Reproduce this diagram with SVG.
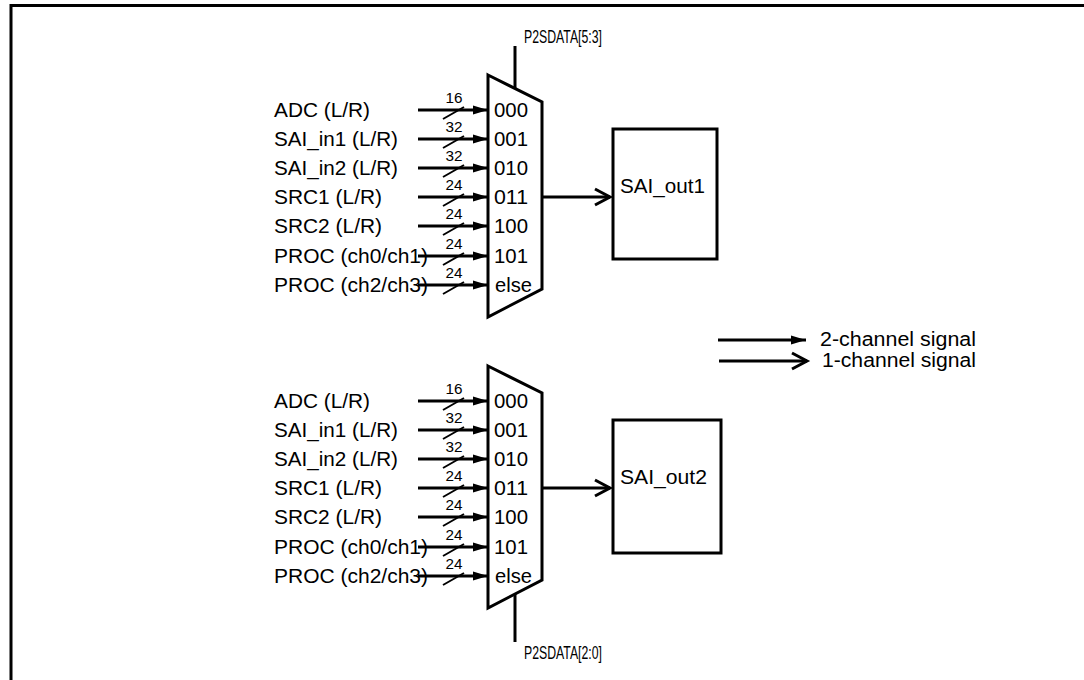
<svg xmlns="http://www.w3.org/2000/svg" width="1084" height="680" viewBox="0 0 1084 680">
<defs>
<marker id="fa" markerUnits="userSpaceOnUse" markerWidth="16" markerHeight="10" refX="15" refY="4.5" orient="auto" overflow="visible"><path d="M0,0 L15,4.5 L0,9 z" fill="#000"/></marker>
<marker id="oa" markerUnits="userSpaceOnUse" markerWidth="18" markerHeight="18" refX="15" refY="8" orient="auto" overflow="visible"><path d="M0,0 L15,8 L0,16" fill="none" stroke="#000" stroke-width="3"/></marker>
</defs>
<style>
.t{font-family:"Liberation Sans",Arial,Helvetica,sans-serif;font-size:20px;fill:#000}
.n{font-family:"Liberation Sans",Arial,Helvetica,sans-serif;font-size:14px;fill:#000;text-anchor:middle}
.sel{font-family:"Liberation Sans",Arial,Helvetica,sans-serif;font-size:18px;fill:#000}
.lg{font-family:"Liberation Sans",Arial,Helvetica,sans-serif;font-size:20px;fill:#000}
.w{stroke:#000;stroke-width:3;fill:none}
.in{stroke:#000;stroke-width:3;fill:none;marker-end:url(#fa)}
.out{stroke:#000;stroke-width:3;fill:none;marker-end:url(#oa)}
.s{stroke:#000;stroke-width:2;fill:none}
.shape{fill:#fff;stroke:#000;stroke-width:3;stroke-linejoin:miter}
</style>
<rect width="1084" height="680" fill="#fff"/>
<path id="frame" class="w" d="M11,680 V5.5 H1084"/>

<g id="mux1">
<polygon class="shape" points="488,75 542,102 542,289 488,317"/>
<text class="t" x="494" y="117" textLength="34" lengthAdjust="spacingAndGlyphs">000</text>
<text class="t" x="494" y="146" textLength="34" lengthAdjust="spacingAndGlyphs">001</text>
<text class="t" x="494" y="175" textLength="34" lengthAdjust="spacingAndGlyphs">010</text>
<text class="t" x="494" y="204" textLength="34" lengthAdjust="spacingAndGlyphs">011</text>
<text class="t" x="494" y="233" textLength="34" lengthAdjust="spacingAndGlyphs">100</text>
<text class="t" x="494" y="263" textLength="34" lengthAdjust="spacingAndGlyphs">101</text>
<text class="t" x="495" y="292" textLength="37" lengthAdjust="spacingAndGlyphs">else</text>
</g>
<g id="sel1">
<text class="sel" x="524" y="43" textLength="78" lengthAdjust="spacingAndGlyphs">P2SDATA[5:3]</text>
</g>
<g id="inputs1">
<text class="t" x="274" y="117" textLength="96" lengthAdjust="spacingAndGlyphs">ADC (L/R)</text>
<text class="t" x="274" y="146" textLength="124" lengthAdjust="spacingAndGlyphs">SAI_in1 (L/R)</text>
<text class="t" x="274" y="175" textLength="124" lengthAdjust="spacingAndGlyphs">SAI_in2 (L/R)</text>
<text class="t" x="274" y="204" textLength="108" lengthAdjust="spacingAndGlyphs">SRC1 (L/R)</text>
<text class="t" x="274" y="233" textLength="108" lengthAdjust="spacingAndGlyphs">SRC2 (L/R)</text>
<text class="t" x="274" y="263" textLength="154" lengthAdjust="spacingAndGlyphs">PROC (ch0/ch1)</text>
<text class="t" x="274" y="292" textLength="154" lengthAdjust="spacingAndGlyphs">PROC (ch2/ch3)</text>
</g>
<g id="sai_out1">
<rect class="shape" x="613" y="129" width="104" height="130"/>
<text class="t" x="620" y="193" textLength="85" lengthAdjust="spacingAndGlyphs">SAI_out1</text>
</g>

<g id="mux2">
<polygon class="shape" points="488,366 542,393 542,580 488,608"/>
<text class="t" x="494" y="408" textLength="34" lengthAdjust="spacingAndGlyphs">000</text>
<text class="t" x="494" y="437" textLength="34" lengthAdjust="spacingAndGlyphs">001</text>
<text class="t" x="494" y="466" textLength="34" lengthAdjust="spacingAndGlyphs">010</text>
<text class="t" x="494" y="495" textLength="34" lengthAdjust="spacingAndGlyphs">011</text>
<text class="t" x="494" y="524" textLength="34" lengthAdjust="spacingAndGlyphs">100</text>
<text class="t" x="494" y="554" textLength="34" lengthAdjust="spacingAndGlyphs">101</text>
<text class="t" x="495" y="583" textLength="37" lengthAdjust="spacingAndGlyphs">else</text>
</g>
<g id="sel2">
<text class="sel" x="524" y="659" textLength="78" lengthAdjust="spacingAndGlyphs">P2SDATA[2:0]</text>
</g>
<g id="inputs2">
<text class="t" x="274" y="408" textLength="96" lengthAdjust="spacingAndGlyphs">ADC (L/R)</text>
<text class="t" x="274" y="437" textLength="124" lengthAdjust="spacingAndGlyphs">SAI_in1 (L/R)</text>
<text class="t" x="274" y="466" textLength="124" lengthAdjust="spacingAndGlyphs">SAI_in2 (L/R)</text>
<text class="t" x="274" y="495" textLength="108" lengthAdjust="spacingAndGlyphs">SRC1 (L/R)</text>
<text class="t" x="274" y="524" textLength="108" lengthAdjust="spacingAndGlyphs">SRC2 (L/R)</text>
<text class="t" x="274" y="554" textLength="154" lengthAdjust="spacingAndGlyphs">PROC (ch0/ch1)</text>
<text class="t" x="274" y="583" textLength="154" lengthAdjust="spacingAndGlyphs">PROC (ch2/ch3)</text>
</g>
<g id="sai_out2">
<rect class="shape" x="613" y="420" width="108" height="133"/>
<text class="t" x="620" y="484" textLength="87" lengthAdjust="spacingAndGlyphs">SAI_out2</text>
</g>

<g id="connectors">
<line class="w" x1="515" y1="46" x2="515" y2="88"/>
<line class="w" x1="515" y1="594" x2="515" y2="642"/>
<line class="in" x1="418" y1="110" x2="488" y2="110"/>
<line class="in" x1="418" y1="139" x2="488" y2="139"/>
<line class="in" x1="418" y1="168" x2="488" y2="168"/>
<line class="in" x1="418" y1="197" x2="488" y2="197"/>
<line class="in" x1="418" y1="226" x2="488" y2="226"/>
<line class="in" x1="418" y1="256" x2="488" y2="256"/>
<line class="in" x1="418" y1="285" x2="488" y2="285"/>
<line class="out" x1="542" y1="197" x2="610" y2="197"/>
<line class="in" x1="418" y1="401" x2="488" y2="401"/>
<line class="in" x1="418" y1="430" x2="488" y2="430"/>
<line class="in" x1="418" y1="459" x2="488" y2="459"/>
<line class="in" x1="418" y1="488" x2="488" y2="488"/>
<line class="in" x1="418" y1="517" x2="488" y2="517"/>
<line class="in" x1="418" y1="547" x2="488" y2="547"/>
<line class="in" x1="418" y1="576" x2="488" y2="576"/>
<line class="out" x1="542" y1="488" x2="610" y2="488"/>
<g id="bus_marks">
<path class="s" d="M443,119 L464,107 M443,148 L464,136 M443,177 L464,165 M443,206 L464,194 M443,235 L464,223 M443,265 L464,253 M443,294 L464,282"/>
<path class="s" d="M443,410 L464,398 M443,439 L464,427 M443,468 L464,456 M443,497 L464,485 M443,526 L464,514 M443,556 L464,544 M443,585 L464,573"/>
</g>
</g>
<g id="bus_widths">
<text class="n" x="454" y="103" textLength="17" lengthAdjust="spacingAndGlyphs">16</text>
<text class="n" x="454" y="132" textLength="17" lengthAdjust="spacingAndGlyphs">32</text>
<text class="n" x="454" y="161" textLength="17" lengthAdjust="spacingAndGlyphs">32</text>
<text class="n" x="454" y="190" textLength="17" lengthAdjust="spacingAndGlyphs">24</text>
<text class="n" x="454" y="219" textLength="17" lengthAdjust="spacingAndGlyphs">24</text>
<text class="n" x="454" y="249" textLength="17" lengthAdjust="spacingAndGlyphs">24</text>
<text class="n" x="454" y="278" textLength="17" lengthAdjust="spacingAndGlyphs">24</text>
<text class="n" x="454" y="394" textLength="17" lengthAdjust="spacingAndGlyphs">16</text>
<text class="n" x="454" y="423" textLength="17" lengthAdjust="spacingAndGlyphs">32</text>
<text class="n" x="454" y="452" textLength="17" lengthAdjust="spacingAndGlyphs">32</text>
<text class="n" x="454" y="481" textLength="17" lengthAdjust="spacingAndGlyphs">24</text>
<text class="n" x="454" y="510" textLength="17" lengthAdjust="spacingAndGlyphs">24</text>
<text class="n" x="454" y="540" textLength="17" lengthAdjust="spacingAndGlyphs">24</text>
<text class="n" x="454" y="569" textLength="17" lengthAdjust="spacingAndGlyphs">24</text>
</g>

<g id="legend">
<line class="in" x1="718" y1="340" x2="806" y2="340"/>
<line class="out" x1="719" y1="361" x2="807" y2="361"/>
<text class="lg" x="820" y="346" textLength="156" lengthAdjust="spacingAndGlyphs">2-channel signal</text>
<text class="lg" x="822" y="367" textLength="154" lengthAdjust="spacingAndGlyphs">1-channel signal</text>
</g>
</svg>
